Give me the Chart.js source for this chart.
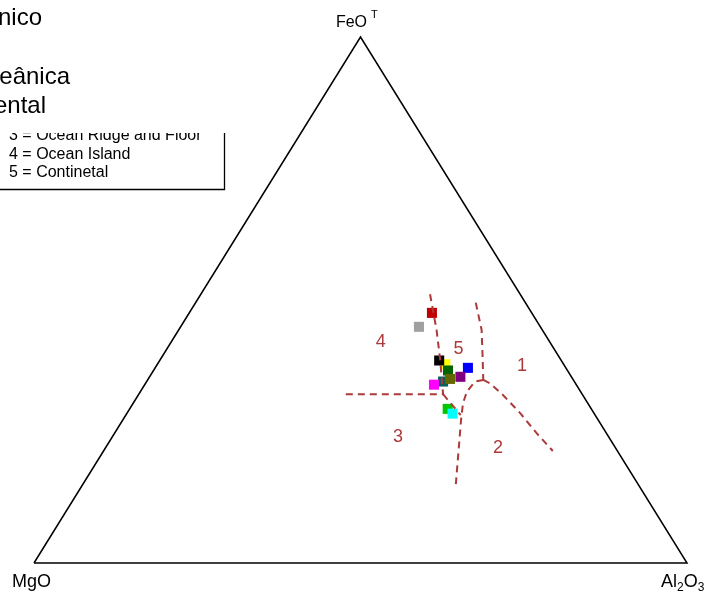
<!DOCTYPE html>
<html>
<head>
<meta charset="utf-8">
<style>
  html, body { margin: 0; padding: 0; background: #ffffff; }
  #wrap { width: 716px; height: 596px; }
</style>
<script src="https://cdn.jsdelivr.net/npm/chart.js@4.4.0/dist/chart.umd.min.js"></script>
</head>
<body>
<div id="wrap"><canvas id="c" width="716" height="596"></canvas></div>
<script>
// FeOT - MgO - Al2O3 tectonic discrimination diagram (wt%, normalised to 100)

// Samples: MgO, FeOT, Al2O3
const sampleMgO   = [18.6, 15.3, 18.1, 18.7, 18.3, 20.1, 21.8, 18.8, 15.0, 17.0, 22.0, 21.7];
const sampleFeO   = [44.9, 47.6, 37.8, 38.5, 36.6, 34.5, 33.9, 35.0, 37.1, 35.4, 29.3, 28.4];
const sampleAl2O3 = [36.5, 37.2, 44.1, 42.8, 45.1, 45.4, 44.3, 46.2, 47.9, 47.6, 48.7, 49.9];
const sampleColors = ['#a0a0a0', '#c00000', '#ffff00', '#000000', '#006400', '#006060',
                      '#ff00ff', '#666600', '#0000ff', '#800080', '#00c800', '#00ffff'];

// Field boundaries as [MgO, FeOT, Al2O3]
const boundary4_5 = [[13.8, 51.1, 35.1], [16.2, 44.3, 39.5], [18.5, 38.6, 42.9], [20.7, 33.5, 45.8], [21.3, 32.1, 46.6]];
const boundary3_4 = [[36.2, 32.1, 31.7], [21.3, 32.1, 46.6]];
const boundary3_5 = [[21.3, 32.1, 46.6], [20.6, 28.1, 51.3]];
const boundary1_5 = [[7.6, 49.5, 42.9], [9.3, 44.3, 46.4], [11.7, 39.2, 49.1], [13.8, 34.8, 51.4]];
const boundary1_2 = [[13.8, 34.8, 51.4], [13.1, 34.2, 52.8], [12.2, 31.9, 55.9], [11.3, 28.5, 60.2], [10.7, 24.7, 64.7], [9.9, 21.3, 68.8]];
const boundary2_3 = [[13.8, 34.8, 51.4], [15.2, 34.5, 50.3], [17.4, 32.6, 50.0], [19.1, 30.4, 50.5], [21.0, 27.2, 51.8], [24.6, 20.9, 54.6], [27.9, 15.0, 57.1]];

// Field numbers and where they sit, [MgO, FeOT, Al2O3]
const fieldNames = ['1', '2', '3', '4', '5'];
const fieldSpots = [[6.5, 37.5, 56.0], [18.0, 21.9, 60.1], [32.3, 23.9, 43.8], [25.9, 42.0, 32.1], [14.7, 40.6, 44.7]];

// Apex labels and key text
const apexLabels = { top: 'FeO', right: 'Al2O3', left: 'MgO' };
const keyLines = ['3 = Ocean Ridge and Floor', '4 = Ocean Island', '5 = Continetal'];
const noteLines = ['2 = Orogênico', '', '4 = Ilha Oceânica', '5 = Continental'];

// Ternary -> cartesian (MgO at lower left, Al2O3 at lower right, FeOT on top)
function tern(m, f, a) {
  const s = m + f + a;
  return { x: (a + f / 2) / s, y: f / s };
}
const path = arr => arr.map(p => tern(p[0], p[1], p[2]));

const FIELD_RED = '#ad3a3a';
function boundarySet(arr) {
  return {
    type: 'line', data: path(arr), borderColor: FIELD_RED, borderWidth: 2,
    borderDash: [7, 5], pointRadius: 0, fill: false, tension: 0, clip: false
  };
}

const samples = sampleMgO.map((m, i) => tern(m, sampleFeO[i], sampleAl2O3[i]));

const FONT = '"Liberation Sans", Arial, sans-serif';

const textPlugin = {
  id: 'ternaryText',
  afterDatasetsDraw(chart) {
    const ctx = chart.ctx, xs = chart.scales.x, ys = chart.scales.y;
    const px = p => [xs.getPixelForValue(p.x), ys.getPixelForValue(p.y)];
    ctx.save();
    // field numbers
    ctx.fillStyle = FIELD_RED;
    ctx.font = '18px ' + FONT;
    ctx.textAlign = 'center';
    ctx.textBaseline = 'middle';
    fieldNames.forEach((t, i) => {
      const s = fieldSpots[i];
      const [x, y] = px(tern(s[0], s[1], s[2]));
      ctx.fillText(t, x, y);
    });

    // apex labels
    ctx.fillStyle = '#000';
    ctx.textBaseline = 'alphabetic';
    const top = '16px ' + FONT;
    const big = '18px ' + FONT;
    const small = '12px ' + FONT;
    const [tx, ty] = px({ x: 0.5, y: 1 });
    ctx.font = top; ctx.textAlign = 'center';
    ctx.fillText(apexLabels.top, tx - 9, ty - 10);
    const fw = ctx.measureText(apexLabels.top).width;
    ctx.font = '11px ' + FONT; ctx.textAlign = 'left';
    ctx.fillText('T', tx - 9 + fw / 2 + 4, ty - 19);

    const [lx, ly] = px({ x: 0, y: 0 });
    ctx.font = big; ctx.textAlign = 'left';
    ctx.fillText(apexLabels.left, lx - 22, ly + 24);

    const [rx, ry] = px({ x: 1, y: 0 });
    let cx = rx - 26;
    const parts = [['Al', big, 0], ['2', small, 4], ['O', big, 0], ['3', small, 4]];
    parts.forEach(([t, f, dy]) => {
      ctx.font = f;
      ctx.fillText(t, cx, ry + 24 + dy);
      cx += ctx.measureText(t).width;
    });
    ctx.restore();
  },
  afterDraw(chart) {
    const ctx = chart.ctx;
    ctx.save();
    // key box, partly hidden by the note panel above it
    ctx.strokeStyle = '#000';
    ctx.lineWidth = 1.3;
    ctx.beginPath();
    ctx.moveTo(-5, 189.5);
    ctx.lineTo(224.5, 189.5);
    ctx.lineTo(224.5, 120);
    ctx.stroke();
    ctx.fillStyle = '#000';
    ctx.font = '16px ' + FONT;
    ctx.textAlign = 'left';
    ctx.textBaseline = 'alphabetic';
    const base = [140, 159, 177];
    keyLines.forEach((t, i) => ctx.fillText(t, 9, base[i]));

    // note panel
    ctx.fillStyle = '#fff';
    ctx.fillRect(0, 0, 240, 133);
    ctx.fillStyle = '#000';
    ctx.font = '24px ' + FONT;
    ctx.textAlign = 'right';
    const ends = [42, -10, 70, 46];
    const rows = [25, 54, 84, 113];
    noteLines.forEach((t, i) => { if (t) ctx.fillText(t, ends[i], rows[i]); });
    ctx.restore();
  }
};

new Chart(document.getElementById('c'), {
  type: 'scatter',
  data: {
    datasets: [
      {
        type: 'line', data: [tern(100, 0, 0), tern(0, 0, 100), tern(0, 100, 0), tern(100, 0, 0)],
        borderColor: '#000', borderWidth: 1.5, pointRadius: 0, fill: false, tension: 0, clip: false
      },
      boundarySet(boundary4_5),
      boundarySet(boundary3_4),
      boundarySet(boundary3_5),
      boundarySet(boundary1_5),
      boundarySet(boundary1_2),
      boundarySet(boundary2_3),
      {
        data: samples, pointStyle: 'rect', pointRadius: 7.1, pointHoverRadius: 7.1,
        backgroundColor: sampleColors, pointBackgroundColor: sampleColors,
        borderWidth: 0, pointBorderWidth: 0, clip: false
      }
    ]
  },
  options: {
    responsive: false,
    animation: false,
    events: [],
    layout: { padding: { left: 34, right: 29, top: 37, bottom: 33 } },
    scales: {
      x: { type: 'linear', min: 0, max: 1, display: false },
      y: { type: 'linear', min: 0, max: 1, display: false }
    },
    plugins: { legend: { display: false }, tooltip: { enabled: false } }
  },
  plugins: [textPlugin]
});
</script>
</body>
</html>
